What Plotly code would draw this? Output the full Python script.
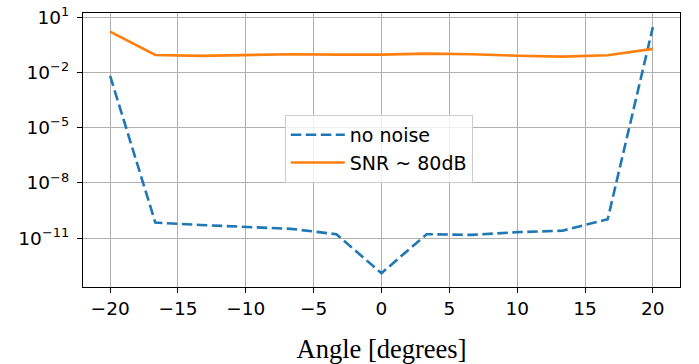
import plotly.graph_objects as go

angles = [-20, -16.67, -13.33, -10, -6.67, -3.33, 0, 3.33, 6.67, 10, 13.33, 16.67, 20]
no_noise_exp = [-2.19, -10.16, -10.29, -10.38, -10.5, -10.79, -12.91, -10.79, -10.83, -10.68, -10.6, -9.98, 0.46]
snr80_exp = [0.22, -1.05, -1.1, -1.07, -1.01, -1.03, -1.03, -0.98, -1.01, -1.09, -1.14, -1.07, -0.72]
no_noise = [10 ** e for e in no_noise_exp]
snr80 = [10 ** e for e in snr80_exp]

x_ticks = [-20, -15, -10, -5, 0, 5, 10, 15, 20]
x_ticktext = ["\u221220", "\u221215", "\u221210", "\u22125", "0", "5", "10", "15", "20"]
y_tickvals = [1e1, 1e-2, 1e-5, 1e-8, 1e-11]
y_ticktext = ["10<sup>1</sup>", "10<sup>\u22122</sup>", "10<sup>\u22125</sup>", "10<sup>\u22128</sup>", "10<sup>\u221211</sup>"]

fig = go.Figure()
fig.add_trace(go.Scatter(x=angles, y=no_noise, mode="lines", name="no noise",
                         line=dict(color="#1f77b4", width=2.6, dash="10.5px,4.5px")))
fig.add_trace(go.Scatter(x=angles, y=snr80, mode="lines", name="SNR ~ 80dB",
                         line=dict(color="#ff7f0e", width=2.6)))

fig.update_layout(
    width=699, height=364,
    margin=dict(l=83, r=19, t=13, b=77),
    paper_bgcolor="white", plot_bgcolor="white",
    font=dict(family="DejaVu Sans", size=19, color="black"),
    legend=dict(x=0.338, y=0.628, xanchor="left", yanchor="top",
                bgcolor="rgba(255,255,255,0.8)", bordercolor="#cccccc", borderwidth=1,
                font=dict(size=19), itemwidth=54, tracegroupgap=0),
    showlegend=True,
)
fig.update_xaxes(
    range=[-22, 22], tickvals=x_ticks, ticktext=x_ticktext,
    tickfont=dict(size=18.5), automargin=False,
    showgrid=True, gridcolor="#b0b0b0", gridwidth=1,
    showline=True, linecolor="black", linewidth=1.2, mirror=True,
    ticks="outside", ticklen=5, tickcolor="black", zeroline=False,
    title=dict(text="Angle [degrees]", font=dict(family="Liberation Serif", size=26.5), standoff=22),
)
fig.update_yaxes(
    type="log", range=[-13.66, 1.23], tickvals=y_tickvals, ticktext=y_ticktext,
    tickfont=dict(size=18.5), ticklabelstandoff=4, automargin=False,
    showgrid=True, gridcolor="#b0b0b0", gridwidth=1,
    showline=True, linecolor="black", linewidth=1.2, mirror=True,
    ticks="outside", ticklen=5, tickcolor="black", zeroline=False,
)

fig.write_html("out.html")
